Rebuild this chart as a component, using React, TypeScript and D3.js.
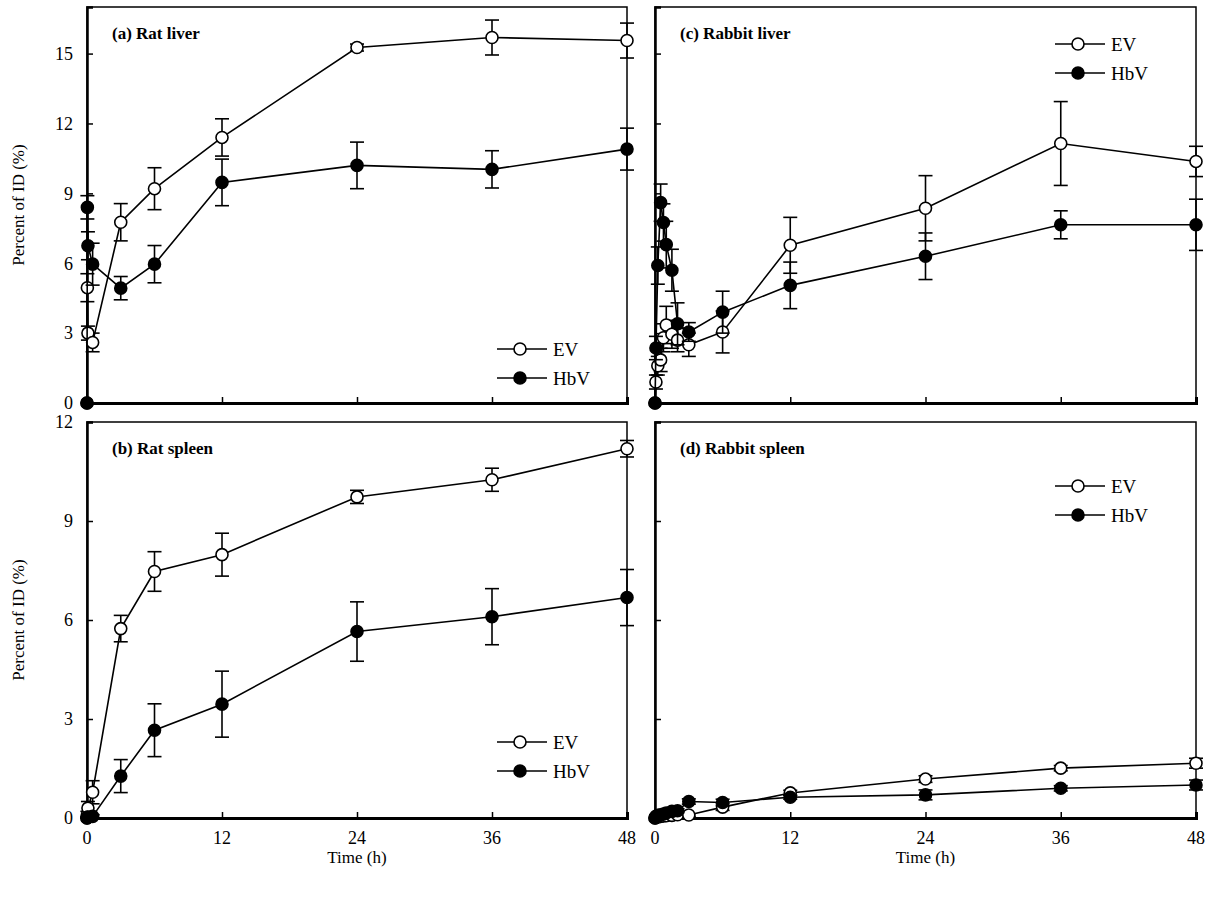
import React, { useEffect, useRef } from "react";
import * as d3 from "d3";

// sampling times (h)
const ratTimes = [0, 0.033, 0.083, 0.5, 3, 6, 12, 24, 36, 48];
const rabbitTimes = [0, 0.083, 0.25, 0.5, 0.75, 1, 1.5, 2, 3, 6, 12, 24, 36, 48];

// (a) Rat liver
const ratLiverEV = [0, 4.95, 3.0, 2.6, 7.76, 9.2, 11.4, 15.26, 15.69, 15.56];
const ratLiverEVErr = [0, 0.6, 0.3, 0.4, 0.8, 0.9, 0.8, 0.15, 0.75, 0.75];
const ratLiverHbV = [0, 8.4, 6.75, 5.96, 4.93, 5.96, 9.47, 10.2, 10.03, 10.9];
const ratLiverHbVErr = [0, 0.5, 0.6, 0.9, 0.5, 0.8, 1.0, 1.0, 0.8, 0.9];

// (b) Rat spleen
const ratSpleenEV = [0, 0.1, 0.3, 0.78, 5.74, 7.47, 7.98, 9.73, 10.25, 11.19];
const ratSpleenEVErr = [0, 0.1, 0.2, 0.35, 0.4, 0.6, 0.65, 0.2, 0.35, 0.25];
const ratSpleenHbV = [0, 0.02, 0.03, 0.05, 1.27, 2.66, 3.45, 5.65, 6.1, 6.68];
const ratSpleenHbVErr = [0, 0.02, 0.03, 0.05, 0.5, 0.8, 1.0, 0.9, 0.85, 0.85];

// (c) Rabbit liver
const rabbitLiverEV = [0, 0.9, 1.6, 1.85, 2.8, 3.35, 2.95, 2.7, 2.5, 3.05, 6.77, 8.36, 11.14, 10.37];
const rabbitLiverEVErr = [0, 0.3, 0.4, 0.5, 0.6, 0.8, 0.6, 0.5, 0.5, 0.9, 1.2, 1.4, 1.8, 0.65];
const rabbitLiverHbV = [0, 2.36, 5.9, 8.6, 7.75, 6.8, 5.7, 3.4, 3.05, 3.9, 5.05, 6.3, 7.65, 7.65];
const rabbitLiverHbVErr = [0, 0.5, 0.8, 0.8, 0.8, 1.0, 0.9, 0.9, 0.4, 0.9, 1.0, 1.0, 0.6, 1.1];

// (d) Rabbit spleen
const rabbitSpleenEV = [0, 0.02, 0.03, 0.05, 0.06, 0.07, 0.08, 0.1, 0.09, 0.33, 0.76, 1.18, 1.51, 1.66];
const rabbitSpleenEVErr = [0, 0.02, 0.02, 0.03, 0.03, 0.03, 0.04, 0.04, 0.04, 0.1, 0.08, 0.1, 0.08, 0.15];
const rabbitSpleenHbV = [0, 0.05, 0.08, 0.1, 0.12, 0.15, 0.2, 0.22, 0.5, 0.47, 0.63, 0.7, 0.9, 1.0];
const rabbitSpleenHbVErr = [0, 0.03, 0.04, 0.05, 0.05, 0.05, 0.06, 0.06, 0.08, 0.1, 0.06, 0.15, 0.08, 0.15];

const xTicks = [0, 12, 24, 36, 48];
const liverTicks = [0, 3, 6, 9, 12, 15];
const spleenTicks = [0, 3, 6, 9, 12];
const seriesNames = ["EV", "HbV"];

const FONT = "'Liberation Serif', 'Times New Roman', serif";

const panels = [
  { title: "(a) Rat liver", times: ratTimes, ev: ratLiverEV, evErr: ratLiverEVErr, hbv: ratLiverHbV, hbvErr: ratLiverHbVErr,
    x0: 87, x1: 627, y0: 7, y1: 403, ymax: 17, ticks: liverTicks, yLabels: true, xLabels: false, legend: [497, 349] },
  { title: "(b) Rat spleen", times: ratTimes, ev: ratSpleenEV, evErr: ratSpleenEVErr, hbv: ratSpleenHbV, hbvErr: ratSpleenHbVErr,
    x0: 87, x1: 627, y0: 422, y1: 818, ymax: 12, ticks: spleenTicks, yLabels: true, xLabels: true, legend: [497, 742] },
  { title: "(c) Rabbit liver", times: rabbitTimes, ev: rabbitLiverEV, evErr: rabbitLiverEVErr, hbv: rabbitLiverHbV, hbvErr: rabbitLiverHbVErr,
    x0: 655, x1: 1196, y0: 7, y1: 403, ymax: 17, ticks: liverTicks, yLabels: false, xLabels: false, legend: [1055, 44] },
  { title: "(d) Rabbit spleen", times: rabbitTimes, ev: rabbitSpleenEV, evErr: rabbitSpleenEVErr, hbv: rabbitSpleenHbV, hbvErr: rabbitSpleenHbVErr,
    x0: 655, x1: 1196, y0: 422, y1: 818, ymax: 12, ticks: spleenTicks, yLabels: false, xLabels: true, legend: [1055, 486] },
];

export default function App() {
  const ref = useRef<SVGSVGElement>(null);

  useEffect(() => {
    const svg = d3.select(ref.current);
    svg.selectAll("*").remove();

    panels.forEach(p => {
      const x = d3.scaleLinear().domain([0, 48]).range([p.x0, p.x1]);
      const y = d3.scaleLinear().domain([0, p.ymax]).range([p.y1, p.y0]);
      const g = svg.append("g");

      // frame (top/right thin)
      g.append("rect")
        .attr("x", p.x0).attr("y", p.y0)
        .attr("width", p.x1 - p.x0).attr("height", p.y1 - p.y0)
        .attr("fill", "none").attr("stroke", "#000").attr("stroke-width", 1.5);

      // y axis, inward ticks
      const yAxis = g.append("g")
        .attr("transform", `translate(${p.x0},0)`)
        .call(d3.axisRight(y).tickValues(p.ticks).tickSize(6).tickFormat(() => ""));
      yAxis.select(".domain").attr("stroke-width", 2.5);
      yAxis.selectAll(".tick line").attr("stroke-width", 1.5);
      if (p.yLabels) {
        g.selectAll(".ylab").data(p.ticks).enter().append("text")
          .attr("x", p.x0 - 14).attr("y", d => y(d)).attr("dy", "0.35em")
          .attr("text-anchor", "end")
          .style("font-family", FONT).style("font-size", "18px")
          .text(d => d);
      }

      // x axis, inward ticks
      const xAxis = g.append("g")
        .attr("transform", `translate(0,${p.y1})`)
        .call(d3.axisTop(x).tickValues(xTicks).tickSize(6).tickFormat(() => ""));
      xAxis.select(".domain").attr("stroke-width", 3);
      xAxis.selectAll(".tick line").attr("stroke-width", 1.5);
      if (p.xLabels) {
        g.selectAll(".xlab").data(xTicks).enter().append("text")
          .attr("x", d => x(d)).attr("y", p.y1 + 26)
          .attr("text-anchor", "middle")
          .style("font-family", FONT).style("font-size", "18px")
          .text(d => d);
        g.append("text")
          .attr("x", (p.x0 + p.x1) / 2).attr("y", p.y1 + 45)
          .attr("text-anchor", "middle")
          .style("font-family", FONT).style("font-size", "17px")
          .text("Time (h)");
      }
      if (p.yLabels) {
        g.append("text")
          .attr("transform", `translate(24,${(p.y0 + p.y1) / 2}) rotate(-90)`)
          .attr("text-anchor", "middle")
          .style("font-family", FONT).style("font-size", "17px")
          .text("Percent of ID (%)");
      }

      // title
      g.append("text")
        .attr("x", p.x0 + 25).attr("y", p.y0 + 32)
        .style("font-family", FONT).style("font-size", "17px").style("font-weight", "bold")
        .text(p.title);

      const series = [
        { vals: p.ev, err: p.evErr, fill: "#fff" },
        { vals: p.hbv, err: p.hbvErr, fill: "#000" },
      ];
      const line = d3.line<number>().x((d, i) => x(p.times[i])).y(d => y(d));

      series.forEach(s => {
        g.append("path").datum(s.vals)
          .attr("d", line).attr("fill", "none").attr("stroke", "#000").attr("stroke-width", 1.6);
        const eb = g.append("g").attr("stroke", "#000").attr("stroke-width", 1.6);
        s.vals.forEach((v, i) => {
          if (s.err[i] <= 0) return;
          const cx = x(p.times[i]);
          const top = y(v + s.err[i]);
          const bot = y(Math.max(0, v - s.err[i]));
          eb.append("line").attr("x1", cx).attr("x2", cx).attr("y1", top).attr("y2", bot);
          eb.append("line").attr("x1", cx - 7).attr("x2", cx + 7).attr("y1", top).attr("y2", top);
          eb.append("line").attr("x1", cx - 7).attr("x2", cx + 7).attr("y1", bot).attr("y2", bot);
        });
        g.append("g").selectAll("circle").data(s.vals).enter().append("circle")
          .attr("cx", (d, i) => x(p.times[i])).attr("cy", d => y(d))
          .attr("r", 6)
          .attr("fill", s.fill).attr("stroke", "#000").attr("stroke-width", 1.6);
      });

      // legend
      const [lx, ly] = p.legend;
      seriesNames.forEach((name, i) => {
        const yy = ly + i * 29;
        g.append("line").attr("x1", lx).attr("x2", lx + 50).attr("y1", yy).attr("y2", yy)
          .attr("stroke", "#000").attr("stroke-width", 1.6);
        g.append("circle").attr("cx", lx + 23).attr("cy", yy).attr("r", 6)
          .attr("fill", i === 0 ? "#fff" : "#000").attr("stroke", "#000").attr("stroke-width", 1.6);
        g.append("text").attr("x", lx + 56).attr("y", yy).attr("dy", "0.35em")
          .style("font-family", FONT).style("font-size", "19px")
          .text(name);
      });
    });
  }, []);

  return (
    <svg ref={ref} width={1212} height={898}
      style={{ position: "absolute", left: 0, top: 0, background: "#fff" }} />
  );
}
